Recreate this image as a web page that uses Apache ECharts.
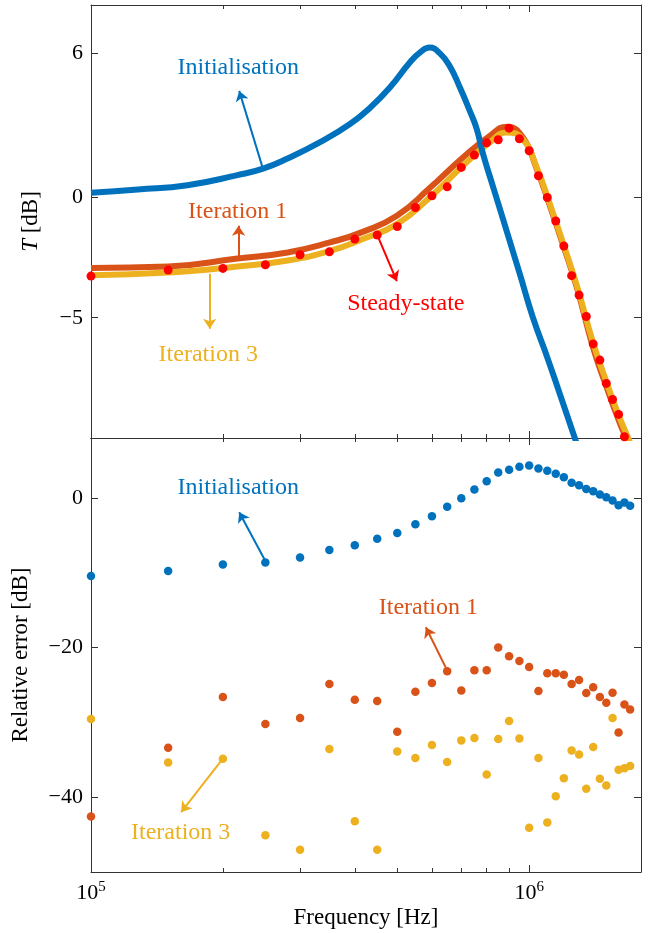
<!DOCTYPE html>
<html><head><meta charset="utf-8">
<script src="https://cdn.jsdelivr.net/npm/echarts@6/dist/echarts.min.js"></script>
<style>html,body{margin:0;padding:0;background:#fff}#c{width:662px;height:933px}</style>
</head><body><div id="c"></div>
<script>
// ---------- data ----------
// measurement frequencies (Hz) shared by markers of both panels
const freq = [1e5,1.5e5,2e5,2.5e5,3e5,3.5e5,4e5,4.5e5,5e5,5.5e5,6e5,6.5e5,7e5,7.5e5,8e5,8.5e5,9e5,9.5e5,
              1e6,1.05e6,1.1e6,1.15e6,1.2e6,1.25e6,1.3e6,1.35e6,1.4e6,1.45e6,1.5e6,1.55e6,1.6e6,1.65e6,1.7e6];
// top panel: steady-state measured T [dB]
const steadyT = [-3.27,-3.02,-2.95,-2.80,-2.38,-2.26,-1.73,-1.56,-1.21,-0.42,0.07,0.44,1.25,1.76,2.27,2.40,2.88,2.44,
                 1.94,0.90,0.00,-0.98,-2.02,-3.25,-4.06,-4.95,-6.09,-6.76,-7.73,-8.40,-9.02,-9.95,null];
// top panel: Initialisation curve
const initFreq = [1e5,1.28e5,1.66e5,2.16e5,2.47e5,2.81e5,3.35e5,3.9e5,4.33e5,4.81e5,5.34e5,5.63e5,5.93e5,6.25e5,
                  6.59e5,6.95e5,7.32e5,7.59e5,7.85e5,8.28e5,8.88e5,9.52e5,1.02e6,1.1e6,1.175e6,1.27e6,1.35e6];
const initT = [0.20,0.33,0.51,0.93,1.20,1.62,2.32,3.05,3.72,4.57,5.61,6.02,6.23,6.00,
               5.45,4.57,3.60,2.85,1.80,0.42,-1.38,-3.18,-4.99,-6.65,-8.17,-9.98,-11.4];
// top panel: Iteration 1 and Iteration 3 curves
const iterFreq = [1e5,1.5e5,2.16e5,2.81e5,3.51e5,4.17e5,4.99e5,5.93e5,7.06e5,8.13e5,8.89e5,9.67e5,
                  1.04e6,1.115e6,1.194e6,1.285e6,1.4e6,1.5e6,1.6e6,1.7e6,1.8e6];
const iter1T = [-2.93,-2.87,-2.54,-2.29,-1.87,-1.43,-0.76,0.39,1.66,2.56,2.94,2.50,
                1.20,-0.35,-1.95,-3.75,-6.25,-7.85,-9.25,-10.4,-11.6];
const iter3T = [-3.23,-3.12,-2.87,-2.62,-2.22,-1.73,-1.11,0.00,1.32,2.29,2.70,2.43,
                1.25,-0.27,-1.87,-3.67,-6.05,-7.65,-9.05,-10.2,-11.4];
// bottom panel: relative error [dB]
const errInit = [-10.43,-9.77,-8.92,-8.65,-7.98,-6.98,-6.33,-5.48,-4.68,-3.52,-2.45,-1.20,-0.04,1.12,2.23,3.40,3.75,4.15,
                 4.33,3.93,3.61,3.21,2.77,2.01,1.70,1.20,0.90,0.45,0.09,-0.35,-0.98,-0.62,-1.07];
const errIter1 = [-42.58,-33.39,-26.62,-30.23,-29.43,-24.88,-26.97,-27.16,-31.25,-25.90,-24.75,-23.18,-25.73,-23.05,-23.05,-20.01,-21.18,-21.80,
                  -22.61,-25.82,-23.45,-23.45,-23.63,-24.88,-24.35,-26.08,-25.32,-26.62,-27.37,-26.03,-31.35,-27.60,-28.27];
const errIter3 = [-29.56,-35.36,-34.87,-45.08,-47.04,-33.57,-43.21,-47.04,-33.89,-34.78,-33.04,-35.31,-32.41,-32.10,-36.96,-32.24,-29.83,-32.15,
                  -44.10,-34.78,-43.39,-39.87,-37.46,-33.75,-34.29,-38.88,-33.31,-37.54,-38.43,-29.43,-36.34,-36.12,-35.85];
// axis ticks
const xMajorTicks = [1e5, 1e6];
const xMinorTicks = [2e5,3e5,4e5,5e5,6e5,7e5,8e5,9e5];
const tTicks = [-5, 0, 6];
const errTicks = [-40, -20, 0];
const xRange = [1e5, 1.8e6];
const tRange = [-10, 8];
const errRange = [-50, 8];

// ---------- chart ----------
const FONT = 'Liberation Serif';
const COL = {blue:'#0072BD', orange:'#D95319', yellow:'#EDB120', red:'#FF0000', axis:'#333'};
const zip = (xs, ys) => xs.map((x, i) => [x, ys[i]]);
const minusFmt = v => (v < 0 ? '\u2212' + Math.abs(v) : String(v));

function xAxis(grid, pos, major, withLabels) {
  const a = {
    type: 'log', logBase: 10, gridIndex: grid, position: pos,
    min: xRange[0], max: xRange[1],
    axisLine: {show: major, onZero: false, lineStyle: {color: COL.axis, width: 1}},
    axisTick: {show: true, inside: true, length: major ? 7 : 4,
               customValues: major ? xMajorTicks : xMinorTicks,
               lineStyle: {color: COL.axis, width: 1}},
    axisLabel: {show: false},
    splitLine: {show: false}, minorTick: {show: false}, minorSplitLine: {show: false}
  };
  if (withLabels) {
    a.axisLabel = {
      show: true, margin: 8, customValues: xMajorTicks,
      formatter: v => '{b|10}{s|' + Math.round(Math.log10(v)) + '}',
      rich: {
        b: {fontFamily: FONT, fontSize: 22, color: '#000', verticalAlign: 'bottom'},
        s: {fontFamily: FONT, fontSize: 15, color: '#000', verticalAlign: 'bottom', padding: [0, 0, 9, 0]}
      }
    };
    a.name = 'Frequency [Hz]';
    a.nameLocation = 'middle';
    a.nameGap = 34;
    a.nameTextStyle = {fontFamily: FONT, fontSize: 23, color: '#000'};
  }
  return a;
}
function yAxis(grid, pos, range, ticks, withLabels, name, gap) {
  const a = {
    type: 'value', gridIndex: grid, position: pos, min: range[0], max: range[1],
    axisLine: {show: true, onZero: false, lineStyle: {color: COL.axis, width: 1}},
    axisTick: {show: true, inside: true, length: 7, customValues: ticks, lineStyle: {color: COL.axis, width: 1}},
    axisLabel: {show: false},
    splitLine: {show: false}, minorTick: {show: false}
  };
  if (withLabels) {
    a.axisLabel = {show: true, margin: 8, customValues: ticks, formatter: minusFmt,
                   fontFamily: FONT, fontSize: 22, color: '#000'};
    a.name = name;
    a.nameLocation = 'middle';
    a.nameGap = gap;
    a.nameTextStyle = {fontFamily: FONT, fontSize: 23, color: '#000',
                       rich: {i: {fontFamily: FONT, fontSize: 23, fontStyle: 'italic', color: '#000'}}};
  }
  return a;
}
function note(text, color, coord) {
  return {coord: coord, symbol: 'circle', symbolSize: 1,
          itemStyle: {color: 'rgba(0,0,0,0)'},
          label: {show: true, position: 'inside', formatter: text, color: color,
                  fontFamily: FONT, fontSize: 24, opacity: 1}};
}
function arrow(color, from, to) {
  return {silent: true, symbol: ['none', 'arrow'], symbolSize: 10, precision: 6,
          lineStyle: {color: color, width: 2, type: 'solid', opacity: 1},
          label: {show: false}, emphasis: {disabled: true},
          data: [[{coord: from}, {coord: to}]]};
}
function marks(color, text, textAt, from, to) {
  return {
    markPoint: {silent: true, symbol: 'circle', symbolSize: 1, itemStyle: {color: 'rgba(0,0,0,0)'},
                label: {show: true}, data: [note(text, color, textAt)]},
    markLine: arrow(color, from, to)
  };
}

const lineBase = {type: 'line', xAxisIndex: 0, yAxisIndex: 0, symbol: 'none', showSymbol: false,
                  smooth: 0.5, silent: true, clip: true, emphasis: {disabled: true}};

const option = {
  animation: false,
  backgroundColor: '#fff',
  grid: [
    {left: 91, top: 5, width: 550, height: 433, outerBoundsMode: 'none', containLabel: false},
    {left: 91, top: 438, width: 550, height: 434, outerBoundsMode: 'none', containLabel: false}
  ],
  xAxis: [
    xAxis(0, 'bottom', true, false), xAxis(0, 'bottom', false, false),
    xAxis(0, 'top', true, false), xAxis(0, 'top', false, false),
    xAxis(1, 'bottom', true, true), xAxis(1, 'bottom', false, false),
    xAxis(1, 'top', true, false), xAxis(1, 'top', false, false)
  ],
  yAxis: [
    yAxis(0, 'left', tRange, tTicks, true, '{i|T} [dB]', 49),
    yAxis(0, 'right', tRange, tTicks, false),
    yAxis(1, 'left', errRange, errTicks, true, 'Relative error [dB]', 59),
    yAxis(1, 'right', errRange, errTicks, false)
  ],
  series: [
    Object.assign({}, lineBase, {name: 'Iteration 1', data: zip(iterFreq, iter1T), z: 2,
      lineStyle: {color: COL.orange, width: 6}},
      marks(COL.orange, 'Iteration 1', [2.162e5, -0.59], [2.172e5, -2.51], [2.172e5, -1.18])),
    Object.assign({}, lineBase, {name: 'Iteration 3', data: zip(iterFreq, iter3T), z: 3,
      lineStyle: {color: COL.yellow, width: 6}},
      marks(COL.yellow, 'Iteration 3', [1.852e5, -6.54], [1.866e5, -3.17], [1.866e5, -5.46])),
    Object.assign({}, lineBase, {name: 'Initialisation', data: zip(initFreq, initT), z: 4,
      lineStyle: {color: COL.blue, width: 6}},
      marks(COL.blue, 'Initialisation', [2.168e5, 5.39], [2.46e5, 1.28], [2.179e5, 4.43])),
    Object.assign({type: 'scatter', name: 'Steady-state', xAxisIndex: 0, yAxisIndex: 0, z: 6,
      data: zip(freq, steadyT), symbol: 'circle', symbolSize: 9, silent: true, clip: true,
      itemStyle: {color: COL.red, opacity: 1}},
      marks(COL.red, 'Steady-state', [5.23e5, -4.42], [4.5e5, -1.56], [4.989e5, -3.48])),
    Object.assign({type: 'scatter', name: 'err Initialisation', xAxisIndex: 4, yAxisIndex: 2,
      data: zip(freq, errInit), symbol: 'circle', symbolSize: 8.5, silent: true,
      itemStyle: {color: COL.blue, opacity: 1}},
      marks(COL.blue, 'Initialisation', [2.168e5, 1.30], [2.502e5, -8.47], [2.179e5, -1.91])),
    Object.assign({type: 'scatter', name: 'err Iteration 1', xAxisIndex: 4, yAxisIndex: 2,
      data: zip(freq, errIter1), symbol: 'circle', symbolSize: 8.5, silent: true,
      itemStyle: {color: COL.orange, opacity: 1}},
      marks(COL.orange, 'Iteration 1', [5.888e5, -14.69], [6.5e5, -23.05], [5.81e5, -17.3])),
    Object.assign({type: 'scatter', name: 'err Iteration 3', xAxisIndex: 4, yAxisIndex: 2,
      data: zip(freq, errIter3), symbol: 'circle', symbolSize: 8.5, silent: true,
      itemStyle: {color: COL.yellow, opacity: 1}},
      marks(COL.yellow, 'Iteration 3', [1.602e5, -44.76], [2.0e5, -34.86], [1.606e5, -42.0]))
  ]
};
const chart = echarts.init(document.getElementById('c'), null, {renderer: 'canvas'});
chart.setOption(option);
</script>
</body></html>
